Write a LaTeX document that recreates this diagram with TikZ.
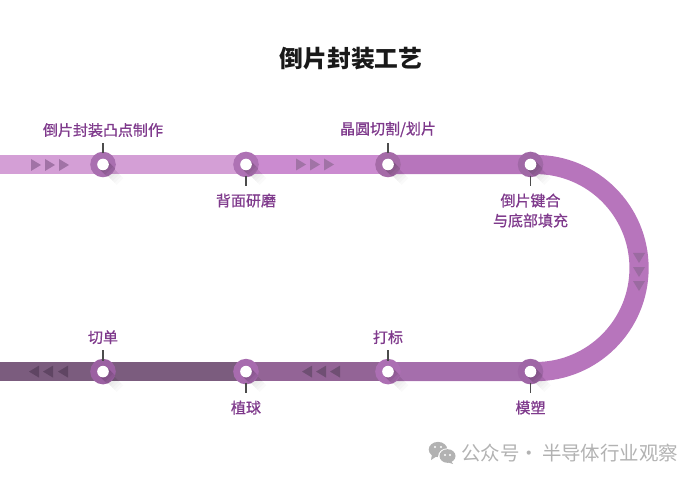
\documentclass[tikz,border=0pt]{standalone}
\usepackage{fontspec}
\usetikzlibrary{positioning}
\newfontfamily\cjkfont{Noto Sans CJK SC}
\newfontfamily\cjkmedium[FakeBold=0.9]{Noto Sans CJK SC}
\definecolor{bandA}{HTML}{D49FD6}
\definecolor{bandB}{HTML}{CB8BD0}
\definecolor{bandC}{HTML}{B775BC}
\definecolor{bandD}{HTML}{A56EAC}
\definecolor{bandE}{HTML}{936496}
\definecolor{bandF}{HTML}{7B5C7E}
\definecolor{labelpurple}{HTML}{7F3A8C}
\definecolor{flowA}{HTML}{A173A6}
\definecolor{flowB}{HTML}{5F4563}
\definecolor{flowC}{HTML}{6F4F73}
\definecolor{flowD}{HTML}{9B6BA1}
\definecolor{ringA}{HTML}{A96FB0}
\definecolor{ringB}{HTML}{AE72B4}
\definecolor{ringC}{HTML}{A56BA8}
\definecolor{ringD}{HTML}{A068A6}
\definecolor{ringE}{HTML}{9F66A6}
\definecolor{ringF}{HTML}{AC6FB3}
\definecolor{ringG}{HTML}{A76BAE}
\definecolor{ringH}{HTML}{9B61A2}
\tikzset{
  band/.style={line width=14.4pt},
  ring/.style={circle, minimum size=19.2pt, inner sep=0pt},
  hole/.style={circle, fill=white, minimum size=8.7pt, inner sep=0pt},
  tick/.style={draw=black!70, line width=0.8pt, shorten <=-1.5pt},
  lab/.style={font=\cjkmedium\fontsize{11.25pt}{15pt}\selectfont, text=labelpurple, inner sep=0pt, align=center}
}
\begin{document}
\begin{tikzpicture}[x=0.75pt, y=-0.75pt]
\useasboundingbox (0,0) rectangle (700,481);

% one stop on the line: name, x, y, ring colour, direction, label
\newcommand\stopmark[6]{
  \foreach \l in {11,13,15,17} {
    \draw[line width=7pt, black, opacity=0.018] (#2,#3) -- ++(\l,\l);
  }
  \node[ring, fill=#4] (#1) at (#2,#3) {};
  \foreach \l in {4,6,8,10} {
    \begin{scope}
      \clip (#2,#3) circle (12.8);
      \draw[line width=8.6pt, black, opacity=0.05] (#2,#3) -- ++(\l,\l);
    \end{scope}
  }
  \node[hole] (#1hole) at (#2,#3) {};
  \coordinate (#1end) at (#2,#3+#5*21.5);
  \ifnum#5<0
    \draw[tick] (#1.north) -- (#1end);
    \node[lab, above=4.3pt of #1end] (#1lab) {#6};
  \else
    \draw[tick] (#1.south) -- (#1end);
    \node[lab, below=5.5pt of #1end] (#1lab) {#6};
  \fi
}
% three small triangles: x list, y, colour
\newcommand\flowright[3]{
  \foreach \x in {#1} {\fill[#3] (\x,#2-6) -- (\x+10,#2) -- (\x,#2+6) -- cycle;}
}
\newcommand\flowleft[3]{
  \foreach \x in {#1} {\fill[#3] (\x+10,#2-6) -- (\x,#2) -- (\x+10,#2+6) -- cycle;}
}

\node[font=\cjkfont\bfseries\fontsize{17.8pt}{20pt}\selectfont, text=black!90, inner sep=0pt] (title) at (351,59) {倒片封装工艺};

% the line
\draw[band, bandA] (0,164.5) -- (246,164.5);
\draw[band, bandB] (246,164.5) -- (388,164.5);
\draw[band, bandC] (388,164.5) -- (535.5,164.5) arc[start angle=-90, end angle=90, radius=103.55] -- (388,371.6);
\draw[band, bandD] (388,371.6) -- (522,371.6);
\draw[band, bandE] (246,371.6) -- (388,371.6);
\draw[band, bandF] (0,371.6) -- (246,371.6);

\flowright{31,45,59}{165}{flowA}
\flowright{296,310,324}{164.5}{flowA}
\flowleft{29,43,58}{371.6}{flowB}
\flowleft{302,316,330}{371.6}{flowC}
\foreach \y in {253,267,281} {\fill[flowD] (633,\y) -- (645,\y) -- (639,\y+10) -- cycle;}

\stopmark{bump}{103}{164.5}{ringA}{-1}{倒片封装凸点制作}
\stopmark{grind}{246}{164.5}{ringB}{1}{背面研磨}
\stopmark{dice}{388}{164.5}{ringC}{-1}{晶圆切割/划片}
\stopmark{bond}{530.5}{164.5}{ringD}{1}{倒片键合\\与底部填充}
\stopmark{mold}{530.5}{371.6}{ringE}{1}{模塑}
\stopmark{mark}{388}{371.6}{ringF}{-1}{打标}
\stopmark{ball}{246}{371.6}{ringG}{1}{植球}
\stopmark{cut}{103}{371.6}{ringH}{-1}{切单}

% watermark
\fill[black!30] (438,449.5) ellipse [x radius=9.3, y radius=7.6];
\fill[black!30] (432,454) -- (431,460) -- (437,456) -- cycle;
\fill[white] (447.5,456.5) ellipse [x radius=9.4, y radius=8.2];
\fill[black!30] (447.5,456) ellipse [x radius=8, y radius=6.8];
\fill[black!30] (451,461) -- (453,464) -- (447,462) -- cycle;
\foreach \x/\y in {435/447,441/447,445/455,450/455} {\fill[white] (\x,\y) circle (1.2);}
\node[font=\cjkfont\fontsize{14.6pt}{16pt}\selectfont, text=black!30, inner sep=0pt, anchor=west] (wmark) at (461,453) {公众号·\kern2.2pt半导体行业观察};

\end{tikzpicture}
\end{document}
